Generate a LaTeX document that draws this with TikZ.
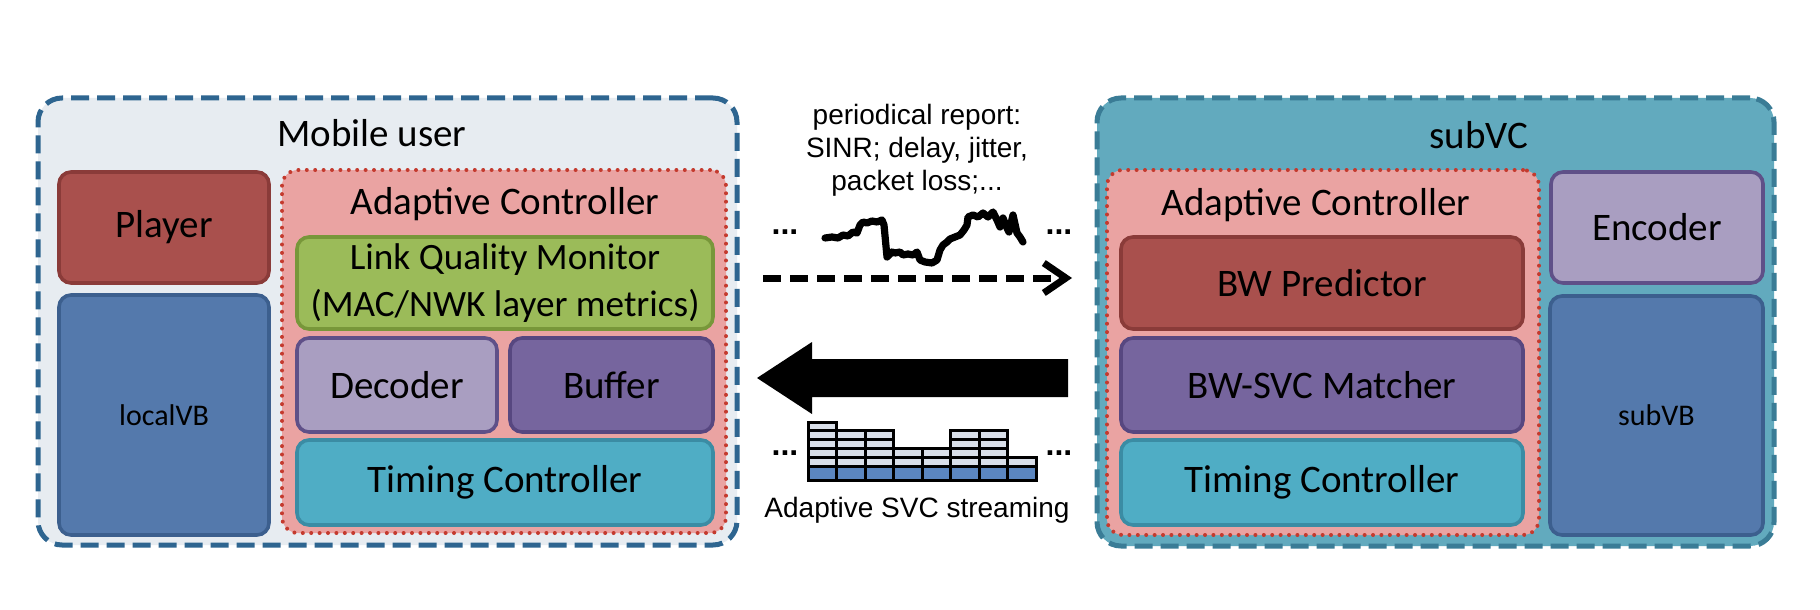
\documentclass[tikz,border=0pt]{standalone}
\usepackage{fontspec}
\setmainfont{Carlito}
\newfontfamily\arialf{Liberation Sans}
\usetikzlibrary{arrows.meta}
\definecolor{mufill}{HTML}{E7ECF1}
\definecolor{muline}{HTML}{2E6590}
\definecolor{vcfill}{HTML}{62AABE}
\definecolor{vcline}{HTML}{3A7C96}
\definecolor{redfill}{HTML}{A9504D}
\definecolor{redline}{HTML}{8A3B39}
\definecolor{bluefill}{HTML}{5479AC}
\definecolor{blueline}{HTML}{3C5F8E}
\definecolor{acfill}{HTML}{EAA3A2}
\definecolor{acdot}{HTML}{C43A2E}
\definecolor{greenfill}{HTML}{9BBB59}
\definecolor{greenline}{HTML}{78973A}
\definecolor{lavfill}{HTML}{A99EC1}
\definecolor{lavline}{HTML}{5F5088}
\definecolor{purfill}{HTML}{76659E}
\definecolor{purline}{HTML}{574780}
\definecolor{tealfill}{HTML}{4FADC5}
\definecolor{tealline}{HTML}{3B8CA4}
\definecolor{svcblue}{HTML}{5B86C0}
\definecolor{svclight}{HTML}{D9DFE9}
\tikzset{
  outerbox/.style={line width=2.5pt, dash pattern=on 9pt off 4pt, rounded corners=12pt, inner sep=0pt},
  acbox/.style={draw=acdot, fill=acfill, line width=2pt, dash pattern=on 0pt off 4.2pt, line cap=round, rounded corners=8pt, inner sep=0pt},
  blk/.style={line width=1.8pt, rounded corners=6pt, inner sep=0pt, align=center, font=\fontsize{19.5}{23.4}\selectfont},
  lqmblk/.style={blk, font=\fontsize{18.6}{23.4}\selectfont},
  smallblk/.style={blk, font=\fontsize{15}{18}\selectfont},
  title/.style={inner sep=0pt, font=\fontsize{19.5}{23.4}\selectfont},
  midtxt/.style={inner sep=0pt, align=center, font=\arialf\fontsize{14}{16.5}\selectfont},
  dotstxt/.style={inner sep=0pt, anchor=base, font=\arialf\bfseries\fontsize{16}{18}\selectfont},
  svcline/.style={draw=black, line width=1.5pt},
  wave/.style={line width=3.6pt, line join=round, line cap=round},
}
\begin{document}
\begin{tikzpicture}[x=0.5pt,y=-0.5pt]
\useasboundingbox (0,0) rectangle (1820,610);
\fill[white] (0,0) rectangle (1820,610);

% ---------- Mobile user ----------
\node[outerbox, draw=muline, fill=mufill, minimum width=349.5pt, minimum height=223.5pt] (mu) at (387.5,321.5) {};
\node[title] (mutitle) at (372,133) {Mobile user};
\node[blk, fill=redfill, draw=redline, minimum width=105pt, minimum height=55.5pt] (player) at (164,227.5) {Player};
\node[smallblk, fill=bluefill, draw=blueline, minimum width=105pt, minimum height=120pt] (localvb) at (164,415) {localVB};
\node[acbox, minimum width=222pt, minimum height=181.5pt] (acl) at (504,351.5) {};
\node[title] (acltitle) at (505,204) {Adaptive Controller};
\node[lqmblk, fill=greenfill, draw=greenline, minimum width=208pt, minimum height=46pt] (lqm) at (505,283) {Link Quality Monitor\\(MAC/NWK layer metrics)};
\node[blk, fill=lavfill, draw=lavline, minimum width=100pt, minimum height=47pt] (decoder) at (397,385) {Decoder};
\node[blk, fill=purfill, draw=purline, minimum width=101.5pt, minimum height=47pt] (buffer) at (611.5,385) {Buffer};
\node[blk, fill=tealfill, draw=tealline, minimum width=208pt, minimum height=42.5pt] (timl) at (505,482.5) {Timing Controller};

% ---------- subVC ----------
\node[outerbox, draw=vcline, fill=vcfill, minimum width=338.5pt, minimum height=224pt] (vc) at (1435.5,322) {};
\node[title] (vctitle) at (1479,135) {subVC};
\node[acbox, minimum width=216pt, minimum height=182.5pt] (acr) at (1323,352.5) {};
\node[title] (acrtitle) at (1316,205) {Adaptive Controller};
\node[blk, fill=redfill, draw=redline, minimum width=201pt, minimum height=46pt] (bwp) at (1322,283) {BW Predictor};
\node[blk, fill=purfill, draw=purline, minimum width=201pt, minimum height=47pt] (bwsvc) at (1322,385) {BW-SVC Matcher};
\node[blk, fill=tealfill, draw=tealline, minimum width=201pt, minimum height=42.5pt] (timr) at (1322,482.5) {Timing Controller};
\node[blk, fill=lavfill, draw=lavline, minimum width=106pt, minimum height=55.5pt] (encoder) at (1657,227.5) {Encoder};
\node[smallblk, fill=bluefill, draw=blueline, minimum width=106.5pt, minimum height=119.5pt] (subvb) at (1656.5,415.5) {subVB};

% ---------- middle ----------
\node[midtxt] (report) at (917,150) {periodical report:\\SINR; delay, jitter,\\packet loss;...};
\node[dotstxt] (d1) at (785,234) {...};
\node[dotstxt] (d2) at (1059,234) {...};
\draw[wave] (825,238) -- (832,237) -- (838,238) -- (843,235) -- (848,236) -- (853,232) -- (857,233)
  -- (860,225) -- (863,222) -- (867,223) -- (872,221) -- (877,222) -- (882,220) -- (884,225)
  -- (887,257) -- (892,252) -- (895,253) -- (900,252) -- (903,255) -- (908,254) -- (913,255)
  -- (917,252) -- (920,260) -- (925,262) -- (932,263) -- (937,260) -- (940,250) -- (943,245)
  -- (947,242) -- (950,239) -- (955,237) -- (960,235) -- (964,230) -- (967,225) -- (968,217)
  -- (973,215) -- (978,217) -- (983,213) -- (988,217) -- (993,212) -- (997,220) -- (1000,227)
  -- (1003,218) -- (1007,228) -- (1009,232) -- (1013,215) -- (1017,233) -- (1020,237) -- (1023,242);
\coordinate (dashL) at (763,278);
\coordinate (dashR) at (1072,278);
\draw[line width=3.5pt, dash pattern=on 9pt off 4.5pt, -{Straight Barb[length=11pt,width=15pt]}] (dashL) -- (dashR);

\coordinate (bigR) at (1068,378);
\coordinate (bigL) at (757,378);
\fill[black] (bigR) ++(0,-19) -- (812,359) -- (812,342) -- (bigL) -- (812,414) -- (812,397) -- (1068,397) -- cycle;

\node[dotstxt] (d3) at (785,455) {...};
\node[dotstxt] (d4) at (1059,455) {...};
\foreach \n [count=\i from 0] in {5,4,4,2,2,4,4,1} {
  \pgfmathsetmacro\xa{808+\i*28.5}
  \pgfmathsetmacro\xb{\xa+28.5}
  \fill[svcblue] (\xa,466) rectangle (\xb,480);
  \foreach \k in {1,...,\n} {
    \draw[svcline, fill=svclight] (\xa,{466-8.8*\k}) rectangle (\xb,{466-8.8*(\k-1)});
  }
  \draw[svcline] (\xa,466) rectangle (\xb,480);
}
\node[midtxt] (svc) at (917,510) {Adaptive SVC streaming};
\end{tikzpicture}
\end{document}
